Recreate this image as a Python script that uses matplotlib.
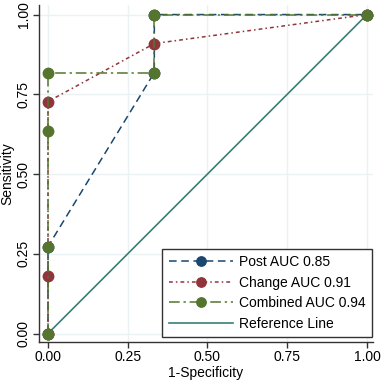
import numpy as np
import matplotlib.pyplot as plt

plt.rcParams['font.family'] = ['Liberation Sans', 'DejaVu Sans']

# ROC points (1-specificity, sensitivity)
post_x = [0, 0, 1/3, 1/3, 1]
post_y = [0, 3/11, 9/11, 1, 1]
change_x = [0, 0, 0, 1/3, 1]
change_y = [0, 2/11, 8/11, 10/11, 1]
comb_x = [0, 0, 0, 0, 1/3, 1/3, 1]
comb_y = [0, 3/11, 7/11, 9/11, 9/11, 1, 1]
labels = ["Post AUC 0.85", "Change AUC 0.91", "Combined AUC 0.94", "Reference Line"]
ticks = [0, 0.25, 0.5, 0.75, 1.0]

navy = "#1a476f"
maroon = "#90353b"
green = "#55752f"
teal = "#3b7f78"

fig = plt.figure(figsize=(3.83, 3.84), dpi=100)
ax = fig.add_axes([0.102, 0.109, 0.872, 0.878])

ax.plot(post_x, post_y, color=navy, ls=(0, (5, 3)), lw=1.1, marker='o', ms=7.5,
        mfc=navy, mec=navy, label=labels[0], zorder=3)
ax.plot(change_x, change_y, color=maroon, ls=(0, (2.5, 2, 1, 2)), lw=1.1, marker='o', ms=7.5,
        mfc=maroon, mec=maroon, label=labels[1], zorder=4)
ax.plot(comb_x, comb_y, color=green, ls=(0, (7, 2.5, 1.5, 2.5)), lw=1.1, marker='o', ms=7.5,
        mfc=green, mec=green, label=labels[2], zorder=5)
ax.plot([0, 1], [0, 1], color=teal, lw=1.2, label=labels[3], zorder=2)

ax.set_xlim(-0.028, 1.019)
ax.set_ylim(-0.027, 1.030)
ax.set_xticks(ticks)
ax.set_yticks(ticks)
ax.set_xticklabels(["%.2f" % t for t in ticks], fontsize=10)
ax.set_yticklabels(["%.2f" % t for t in ticks], fontsize=10, rotation=90, va='center')
ax.grid(True, color="#eaf2f3", lw=1)
ax.set_axisbelow(True)
for s in ['top', 'right']:
    ax.spines[s].set_visible(False)
for s in ['left', 'bottom']:
    ax.spines[s].set_color("#333333")
    ax.spines[s].set_linewidth(1)
ax.tick_params(direction='out', length=4, width=1, color="#333333", pad=2)

ax.set_xlabel("1-Specificity", fontsize=10, labelpad=1)
ax.set_ylabel("Sensitivity", fontsize=10, labelpad=2)

leg = ax.legend(loc='lower right', bbox_to_anchor=(0.998, 0.015), fontsize=10,
                fancybox=False, edgecolor="#333333", framealpha=1,
                handlelength=4.6, handletextpad=0.5, labelspacing=0.48,
                borderpad=0.45, borderaxespad=0, markerscale=0.9)
leg.get_frame().set_linewidth(1)

fig.savefig("out.png", dpi=100)
